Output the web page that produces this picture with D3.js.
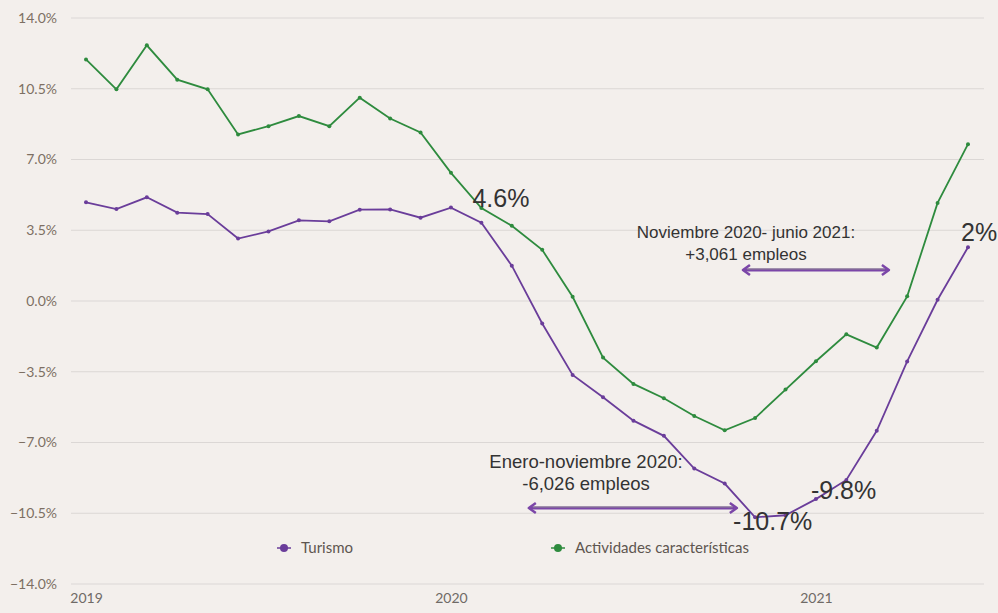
<!DOCTYPE html>
<html>
<head>
<meta charset="utf-8">
<script src="https://cdn.jsdelivr.net/npm/d3@7"></script>
<style>
  html, body { margin: 0; padding: 0; background: #f3efec; }
  svg { display: block; }
</style>
</head>
<body>
<svg id="svg"></svg>
<script>
// datos mensuales, enero 2019 - junio 2021
const months = d3.range(30);
const turismo = [4.88, 4.55, 5.13, 4.37, 4.30, 3.09, 3.44, 3.99, 3.94, 4.52, 4.53, 4.12,
  4.62, 3.87, 1.75, -1.11, -3.66, -4.76, -5.92, -6.67, -8.29, -9.03, -10.7, -10.6,
  -9.8, -8.85, -6.42, -2.99, 0.06, 2.66];
const actividades = [11.95, 10.47, 12.65, 10.95, 10.47, 8.24, 8.65, 9.15, 8.65, 10.06, 9.03, 8.34,
  6.34, 4.6, 3.72, 2.53, 0.21, -2.80, -4.10, -4.81, -5.69, -6.40, -5.79, -4.38,
  -2.98, -1.65, -2.30, 0.23, 4.85, 7.76];
const yTicks = [14, 10.5, 7, 3.5, 0, -3.5, -7, -10.5, -14];
const yearTicks = [0, 12, 24];
const yearLabels = ['2019', '2020', '2021'];
const seriesNames = ['Turismo', 'Actividades características'];
const seriesColors = ['#6a3d9a', '#2e8b3e'];

const width = 998, height = 613;
const svg = d3.select('#svg').attr('width', width).attr('height', height);

const x = d3.scaleLinear().domain([0, 29]).range([86, 968]);
const y = d3.scaleLinear().domain([-14, 14]).range([584, 18]);

// grid
svg.append('g')
  .selectAll('line')
  .data(yTicks)
  .enter()
  .append('line')
  .attr('x1', 71).attr('x2', 984)
  .attr('y1', d => y(d)).attr('y2', d => y(d))
  .attr('stroke', '#dbd7d5')
  .attr('stroke-width', 1.2);

// eje y
const yAxis = d3.axisLeft(y).tickValues(yTicks).tickSize(0).tickPadding(0)
  .tickFormat(d => d3.format('.1f')(d) + '%');
svg.append('g')
  .attr('transform', 'translate(57,0)')
  .call(yAxis)
  .call(g => g.select('.domain').remove())
  .selectAll('text')
  .attr('font-family', 'Lato, sans-serif')
  .attr('font-size', 14)
  .attr('fill', '#7d6f63');

// eje x
const xAxis = d3.axisBottom(x).tickValues(yearTicks).tickSize(0).tickPadding(0)
  .tickFormat((d, i) => yearLabels[i]);
svg.append('g')
  .attr('transform', 'translate(0,593)')
  .call(xAxis)
  .call(g => g.select('.domain').remove())
  .selectAll('text')
  .attr('font-family', 'Lato, sans-serif')
  .attr('font-size', 14)
  .attr('fill', '#6f6a66');

// lineas
const line = d3.line().x((d, i) => x(i)).y(d => y(d));
[turismo, actividades].forEach((s, k) => {
  svg.append('path')
    .datum(s)
    .attr('fill', 'none')
    .attr('stroke', seriesColors[k])
    .attr('stroke-width', 1.8)
    .attr('d', line);
  svg.append('g')
    .selectAll('circle')
    .data(s)
    .enter()
    .append('circle')
    .attr('cx', (d, i) => x(i))
    .attr('cy', d => y(d))
    .attr('r', 2)
    .attr('fill', seriesColors[k]);
});

// leyenda
const legX = [284, 558];
seriesNames.forEach((name, k) => {
  const g = svg.append('g').attr('transform', 'translate(' + legX[k] + ',548)');
  g.append('circle').attr('r', 4).attr('fill', seriesColors[k]);
  g.append('line').attr('x1', -7).attr('x2', 7).attr('stroke', seriesColors[k]).attr('stroke-width', 1.5);
  g.append('text').attr('x', 17).attr('dy', '0.35em')
    .attr('font-family', 'Lato, sans-serif').attr('font-size', 15)
    .attr('fill', '#5e5650').text(name);
});

// etiquetas de valores
const valueLabels = [
  { i: 13, v: actividades[13], text: '4.6%', dx: -9, dy: -1 },
  { i: 22, v: turismo[22], text: '-10.7%', dx: -22, dy: 13 },
  { i: 24, v: turismo[24], text: '-9.8%', dx: -5, dy: 0 },
  { i: 29, v: turismo[29], text: '2%', dx: -7, dy: -6 }
];
svg.append('g')
  .selectAll('text')
  .data(valueLabels)
  .enter()
  .append('text')
  .attr('x', d => x(d.i) + d.dx)
  .attr('y', d => y(d.v) + d.dy)
  .attr('font-family', '"Liberation Sans", Arial, sans-serif')
  .attr('font-size', 25)
  .attr('fill', '#333')
  .text(d => d.text);

// anotaciones con flechas
function arrow(i0, i1, yy) {
  const x0 = x(i0), x1 = x(i1);
  svg.append('line').attr('x1', x0 + 2).attr('x2', x1 - 2).attr('y1', yy).attr('y2', yy)
    .attr('stroke', '#7b46a8').attr('stroke-width', 3);
  svg.append('line').attr('x1', x0 + 4).attr('x2', x1 - 4).attr('y1', yy - 1).attr('y2', yy - 1)
    .attr('stroke', '#8c8690').attr('stroke-width', 1);
  [[x0, 1], [x1, -1]].forEach(([px, dir]) => {
    svg.append('path')
      .attr('d', 'M' + (px + dir * 7) + ',' + (yy - 5) + 'L' + px + ',' + yy + 'L' + (px + dir * 7) + ',' + (yy + 5))
      .attr('fill', 'none').attr('stroke', '#7b46a8').attr('stroke-width', 2.5)
      .attr('stroke-linejoin', 'round');
  });
}
function note(cx, yy, size, lines) {
  const t = svg.append('text').attr('text-anchor', 'middle')
    .attr('font-family', '"Liberation Sans", Arial, sans-serif')
    .attr('font-size', size).attr('fill', '#333');
  lines.forEach((l, k) => t.append('tspan').attr('x', cx).attr('y', yy + k * 22).text(l));
}
arrow(14.56, 21.4, 508);
note(586, 468, 18.5, ['Enero-noviembre 2020:', '-6,026 empleos']);
arrow(21.6, 26.4, 270);
note(746, 238, 17, ['Noviembre 2020- junio 2021:', '+3,061 empleos']);
</script>
</body>
</html>
